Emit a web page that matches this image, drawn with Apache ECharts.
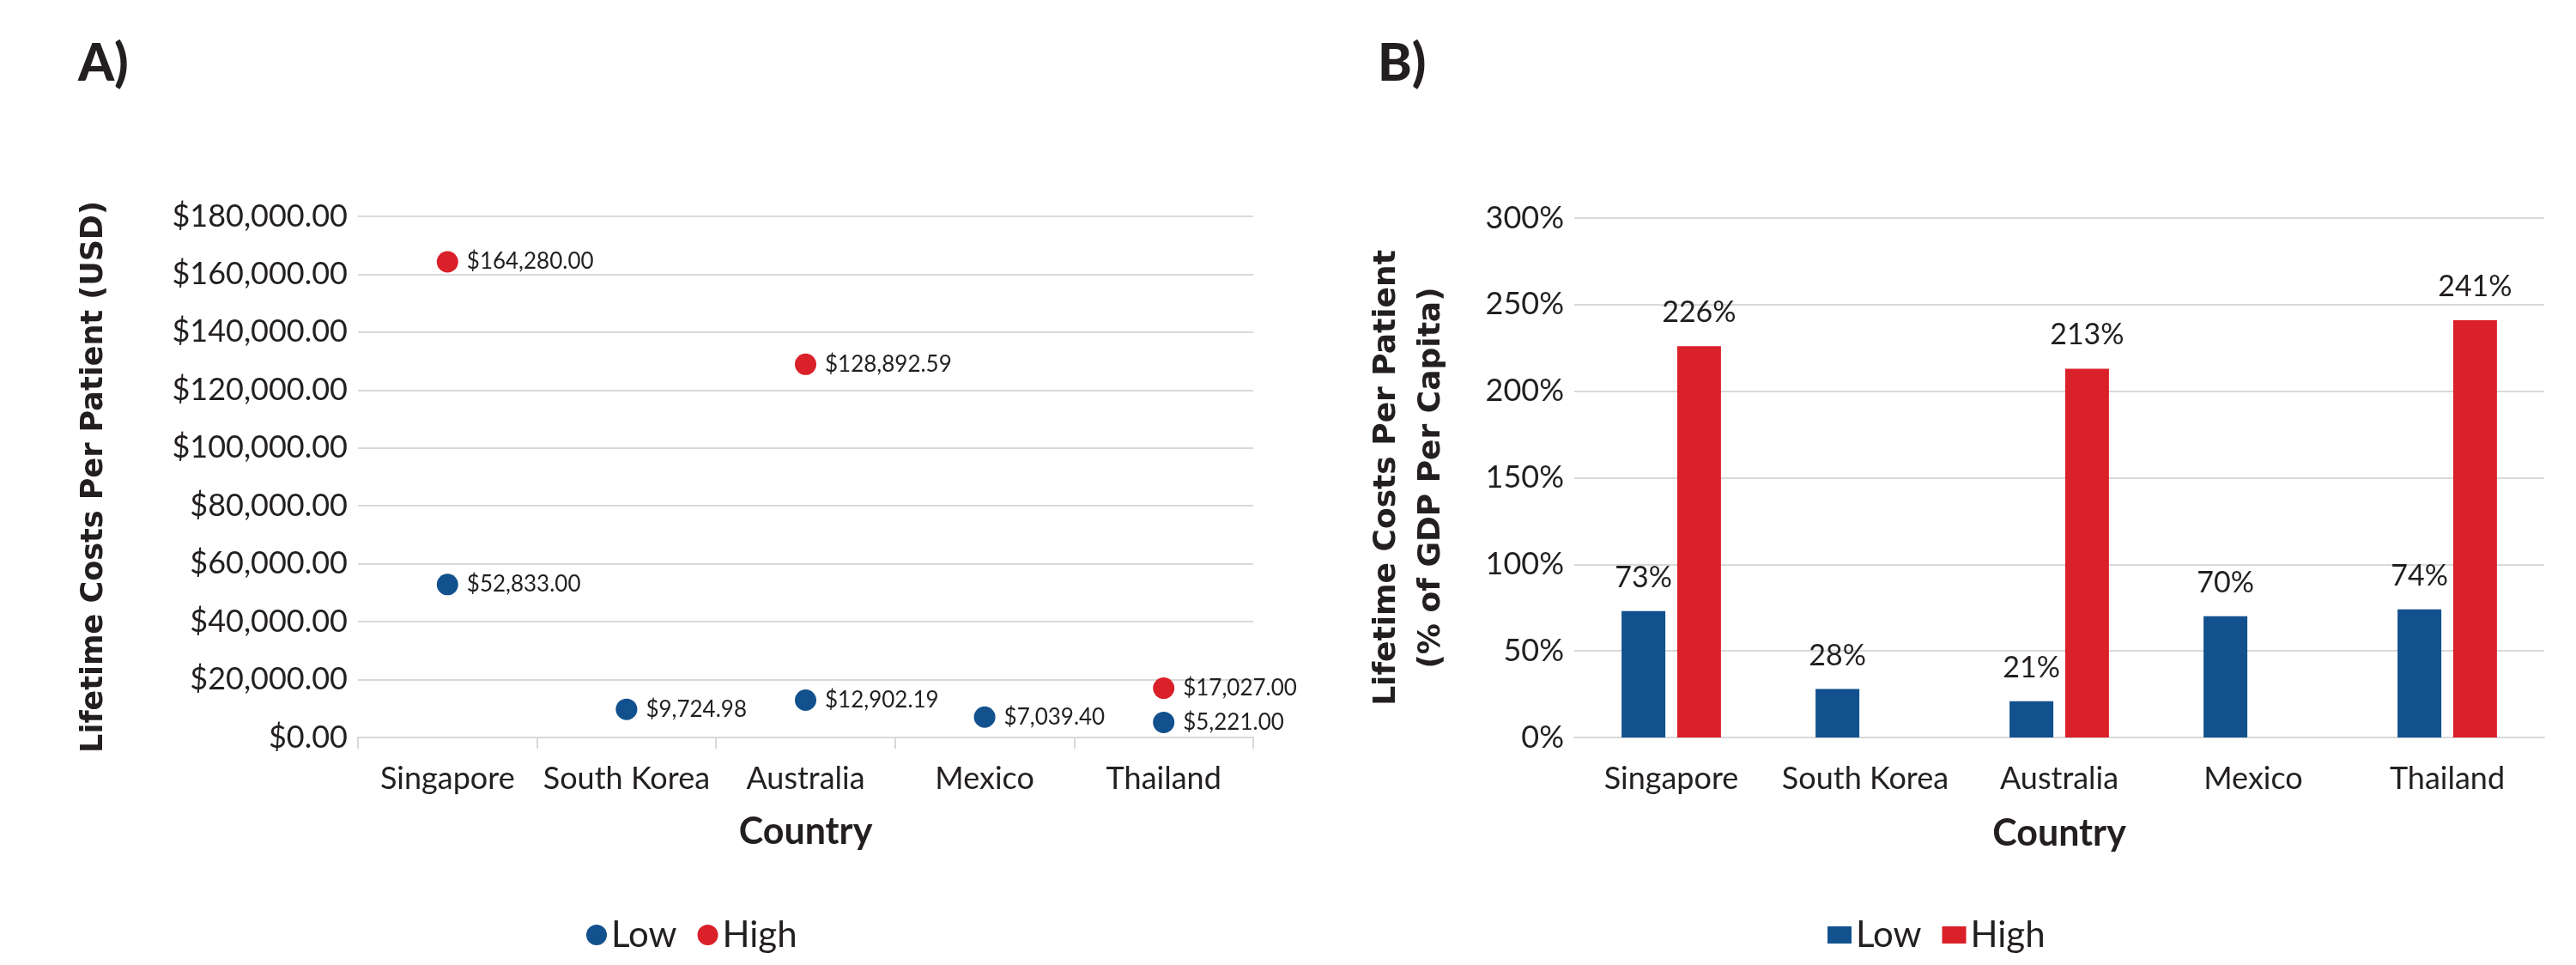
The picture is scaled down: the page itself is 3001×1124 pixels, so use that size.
<!DOCTYPE html>
<html>
<head>
<meta charset="utf-8">
<script src="https://cdn.jsdelivr.net/npm/echarts@6/dist/echarts.min.js"></script>
<style>
html,body{margin:0;padding:0;background:#fff;}
#chart{width:3001px;height:1124px;}
</style>
</head>
<body>
<div id="chart"></div>
<script>
const countries = ['Singapore', 'South Korea', 'Australia', 'Mexico', 'Thailand'];
const usdLow = [52833.00, 9724.98, 12902.19, 7039.40, 5221.00];
const usdHigh = [164280.00, null, 128892.59, null, 17027.00];
const gdpLow = [73, 28, 21, 70, 74];
const gdpHigh = [226, null, 213, null, 241];
const seriesNames = ['Low', 'High'];

const BLUE = '#12518e';
const RED = '#da2029';
const TXT = '#231f20';
const GRID = '#d9d9d9';
const FONT = 'Lato';
const TITLE_FONT = 'DejaVu Sans';

function money(v) {
  return '$' + Number(v).toLocaleString('en-US', {minimumFractionDigits: 2, maximumFractionDigits: 2});
}

const chart = echarts.init(document.getElementById('chart'));
const axisLabelStyle = {color: TXT, fontFamily: FONT, fontSize: 36};
const yNameStyle = {color: TXT, fontFamily: TITLE_FONT, fontSize: 35, fontWeight: 'bold'};
const xNameStyle = {color: TXT, fontFamily: FONT, fontSize: 43, fontWeight: 'bold'};

chart.setOption({
  backgroundColor: '#fff',
  animation: false,
  textStyle: {fontFamily: FONT},
  title: [
    {text: 'A)', left: 86, top: 40, textStyle: {fontFamily: FONT, fontSize: 60, fontWeight: 900, color: TXT}},
    {text: 'B)', left: 1600, top: 40, textStyle: {fontFamily: FONT, fontSize: 60, fontWeight: 900, color: TXT}}
  ],
  legend: [
    {
      data: seriesNames.map(n => ({name: n, icon: 'circle'})),
      left: 678, top: 1063, itemWidth: 24, itemHeight: 24, itemGap: 24,
      textStyle: {color: TXT, fontFamily: FONT, fontSize: 42},
      selectedMode: false
    },
    {
      data: seriesNames.map(n => ({name: n + ' '})),
      left: 2124, top: 1063, itemWidth: 28, itemHeight: 20, itemGap: 24, icon: 'rect',
      textStyle: {color: TXT, fontFamily: FONT, fontSize: 42},
      formatter: n => n.trim(),
      selectedMode: false
    }
  ],
  grid: [
    {left: 417, right: 1541, top: 252, bottom: 265},
    {left: 1834, right: 37, top: 254, bottom: 265}
  ],
  xAxis: [
    {
      type: 'category', gridIndex: 0, data: countries,
      name: 'Country', nameLocation: 'middle', nameGap: 89, nameTextStyle: xNameStyle,
      axisLine: {lineStyle: {color: GRID, width: 2}},
      axisTick: {show: true, length: 13, lineStyle: {color: GRID, width: 2}},
      axisLabel: Object.assign({margin: 30, interval: 0}, axisLabelStyle)
    },
    {
      type: 'category', gridIndex: 1, data: countries,
      name: 'Country', nameLocation: 'middle', nameGap: 91, nameTextStyle: xNameStyle,
      axisLine: {lineStyle: {color: GRID, width: 2}},
      axisTick: {show: false},
      axisLabel: Object.assign({margin: 30, interval: 0}, axisLabelStyle)
    }
  ],
  yAxis: [
    {
      type: 'value', gridIndex: 0, min: 0, max: 180000, interval: 20000,
      name: 'Lifetime Costs Per Patient (USD)', nameLocation: 'middle', nameGap: 290, nameRotate: 90,
      nameTextStyle: yNameStyle,
      axisLine: {show: false}, axisTick: {show: false},
      splitLine: {lineStyle: {color: GRID, width: 2}},
      axisLabel: Object.assign({margin: 12, formatter: v => money(v)}, axisLabelStyle)
    },
    {
      type: 'value', gridIndex: 1, min: 0, max: 300, interval: 50,
      name: 'Lifetime Costs Per Patient\n(% of GDP Per Capita)', nameLocation: 'middle', nameGap: 140, nameRotate: 90,
      nameTextStyle: Object.assign({}, yNameStyle, {fontSize: 36, lineHeight: 52}),
      axisLine: {show: false}, axisTick: {show: false},
      splitLine: {lineStyle: {color: GRID, width: 2}},
      axisLabel: Object.assign({margin: 12, formatter: v => v + '%'}, axisLabelStyle)
    }
  ],
  series: [
    {
      name: 'Low', type: 'scatter', xAxisIndex: 0, yAxisIndex: 0, data: usdLow,
      symbol: 'circle', symbolSize: 25, itemStyle: {color: BLUE, opacity: 1},
      label: {show: true, position: 'right', distance: 10, color: TXT, fontFamily: FONT, fontSize: 26, formatter: p => money(p.value)}
    },
    {
      name: 'High', type: 'scatter', xAxisIndex: 0, yAxisIndex: 0, data: usdHigh,
      symbol: 'circle', symbolSize: 25, itemStyle: {color: RED, opacity: 1},
      label: {show: true, position: 'right', distance: 10, color: TXT, fontFamily: FONT, fontSize: 26, formatter: p => money(p.value)}
    },
    {
      name: 'Low ', type: 'bar', xAxisIndex: 1, yAxisIndex: 1, data: gdpLow,
      barWidth: 51, barGap: '27%', itemStyle: {color: BLUE},
      label: {show: true, position: 'top', distance: 22, color: TXT, fontFamily: FONT, fontSize: 34, formatter: p => p.value + '%'}
    },
    {
      name: 'High ', type: 'bar', xAxisIndex: 1, yAxisIndex: 1, data: gdpHigh,
      barWidth: 51, barGap: '27%', itemStyle: {color: RED},
      label: {show: true, position: 'top', distance: 22, color: TXT, fontFamily: FONT, fontSize: 34, formatter: p => p.value + '%'}
    }
  ]
});
</script>
</body>
</html>
